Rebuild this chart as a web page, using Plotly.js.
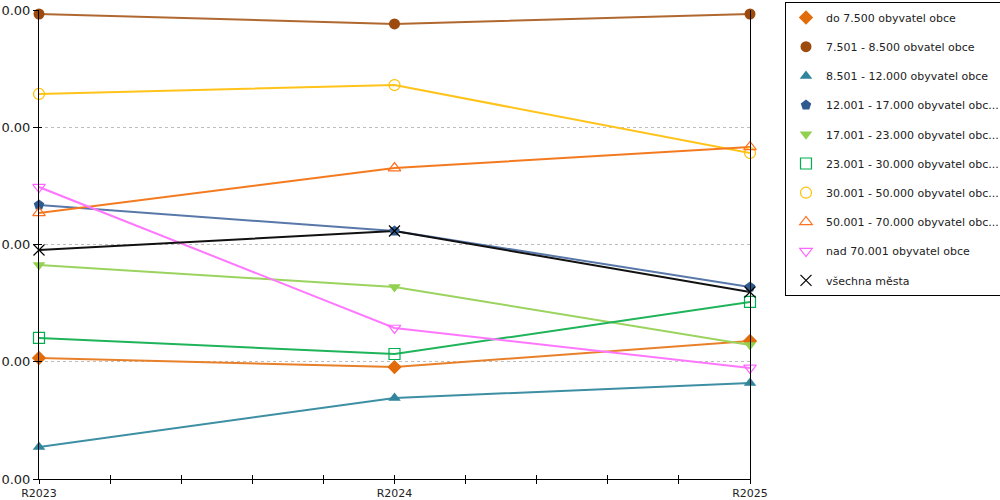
<!DOCTYPE html>
<html>
<head>
<meta charset="utf-8">
<script src="https://cdn.plot.ly/plotly-3.0.1.min.js"></script>
<style>html,body{margin:0;padding:0;background:#fff}#chart{width:1000px;height:500px}</style>
</head>
<body>
<div id="chart"></div>
<script>
// Data (the axis shows them rounded to 2 decimals)
const years = ["R2023", "R2024", "R2025"];
const xPos = [0, 1, 2];
const seriesNames = [
  "do 7.500 obyvatel obce",
  "7.501 - 8.500 obvatel obce",
  "8.501 - 12.000 obyvatel obce",
  "12.001 - 17.000 obyvatel obc...",
  "17.001 - 23.000 obyvatel obc...",
  "23.001 - 30.000 obyvatel obc...",
  "30.001 - 50.000 obyvatel obc...",
  "50.001 - 70.000 obyvatel obc...",
  "nad 70.001 obyvatel obce",
  "všechna města"
];
const s1 = [0.001032, 0.000955, 0.001177];
const s2 = [0.003966, 0.003881, 0.003966];
const s3 = [0.000273, 0.000691, 0.000819];
const s4 = [0.002337, 0.002115, 0.001638];
const s5 = [0.001825, 0.001638, 0.001143];
const s6 = [0.001203, 0.001066, 0.001510];
const s7 = [0.003284, 0.003360, 0.002780];
const s8 = [0.002269, 0.002652, 0.002832];
const s9 = [0.002490, 0.001288, 0.000947];
const s10 = [0.001953, 0.002115, 0.001595];
const seriesValues = [s1, s2, s3, s4, s5, s6, s7, s8, s9, s10];

const xTickVals = [0, 0.2, 0.4, 0.6, 0.8, 1, 1.2, 1.4, 1.6, 1.8, 2];
const xTickText = ["R2023", "", "", "", "", "R2024", "", "", "", "", "R2025"];
const yTickVals = [0, 0.001, 0.002, 0.003, 0.004];

// Styles
const markerColors = ["#e36c0a", "#9c4a0e", "#31859c", "#2f5b8e", "#92d050", "#00b050", "#ffc000", "#ff7020", "#ff66ff", "#000000"];
const lineColors   = ["#e8802a", "#b06830", "#3d8fa3", "#5878aa", "#9bd35f", "#1fb35a", "#ffc31a", "#f47a20", "#ff77ff", "#111111"];
const symbols = ["diamond", "circle", "triangle-up", "pentagon", "triangle-down", "square-open", "circle-open", "triangle-up-open", "triangle-down-open", "x-thin-open"];
const sizes = [11, 11, 11, 11, 11, 11, 11, 11, 11, 11];

const traces = [];
seriesValues.forEach((vals, i) => {
  traces.push({
    x: xPos, y: vals, type: "scatter", mode: "lines",
    line: {color: lineColors[i], width: 2},
    legendgroup: "g" + i, showlegend: false, hoverinfo: "skip", cliponaxis: false
  });
});
seriesValues.forEach((vals, i) => {
  traces.push({
    x: xPos, y: vals, type: "scatter", mode: "markers", name: seriesNames[i],
    marker: {symbol: symbols[i], size: sizes[i], color: markerColors[i],
             line: {color: markerColors[i], width: symbols[i].indexOf("open") >= 0 ? 1.2 : 0}},
    legendgroup: "g" + i, cliponaxis: false,
    text: years, hovertemplate: "%{text}: %{y}<extra>" + seriesNames[i] + "</extra>"
  });
});
// invisible helper trace for the inner tick marks axis pair
traces.push({x: xPos, y: s1, xaxis: "x2", yaxis: "y2", mode: "markers", marker: {opacity: 0}, showlegend: false, hoverinfo: "skip"});

const fontFam = "DejaVu Sans, Verdana, sans-serif";
const layout = {
  width: 1000, height: 500,
  margin: {l: 39, r: 250, t: 10, b: 21, pad: 0},
  paper_bgcolor: "#ffffff", plot_bgcolor: "#ffffff",
  showlegend: true,
  font: {family: fontFam, size: 11, color: "#222"},
  xaxis: {
    range: [0, 2], tickmode: "array", tickvals: xTickVals, ticktext: xTickText,
    showgrid: false, zeroline: false, showline: true, linecolor: "#000", linewidth: 1,
    ticks: "outside", ticklen: 4, tickcolor: "#000", tickwidth: 1,
    tickfont: {family: fontFam, size: 11, color: "#222"}, fixedrange: true
  },
  yaxis: {
    range: [0, 0.004], tickmode: "array", tickvals: yTickVals, tickformat: ".2f",
    showgrid: true, gridcolor: "#bdbdbd", griddash: "dot", gridwidth: 1,
    zeroline: false, showline: true, linecolor: "#000", linewidth: 1, mirror: true,
    ticks: "outside", ticklen: 5, tickcolor: "#000", tickwidth: 1,
    tickfont: {family: fontFam, size: 13, color: "#222"}, fixedrange: true
  },
  xaxis2: {
    overlaying: "x", matches: "x", range: [0, 2], tickmode: "array", tickvals: xTickVals,
    showticklabels: false, showgrid: false, zeroline: false, showline: false,
    ticks: "inside", ticklen: 4, tickcolor: "#000", tickwidth: 1, fixedrange: true
  },
  yaxis2: {
    overlaying: "y", matches: "y", range: [0, 0.004], tickmode: "array", tickvals: yTickVals,
    showticklabels: false, showgrid: false, zeroline: false, showline: false,
    ticks: "inside", ticklen: 3, tickcolor: "#000", tickwidth: 1, fixedrange: true
  },
  legend: {
    xref: "container", yref: "container", x: 0.785, y: 0.996, xanchor: "left", yanchor: "top",
    bordercolor: "#000", borderwidth: 1, bgcolor: "#fff", maxheight: 1,
    itemwidth: 30,
    font: {family: fontFam, size: 11, color: "#222"},
    traceorder: "grouped", tracegroupgap: 10.2, itemclick: false, itemdoubleclick: false
  }
};

Plotly.newPlot("chart", traces, layout, {displayModeBar: false, staticPlot: false});
</script>
</body>
</html>
